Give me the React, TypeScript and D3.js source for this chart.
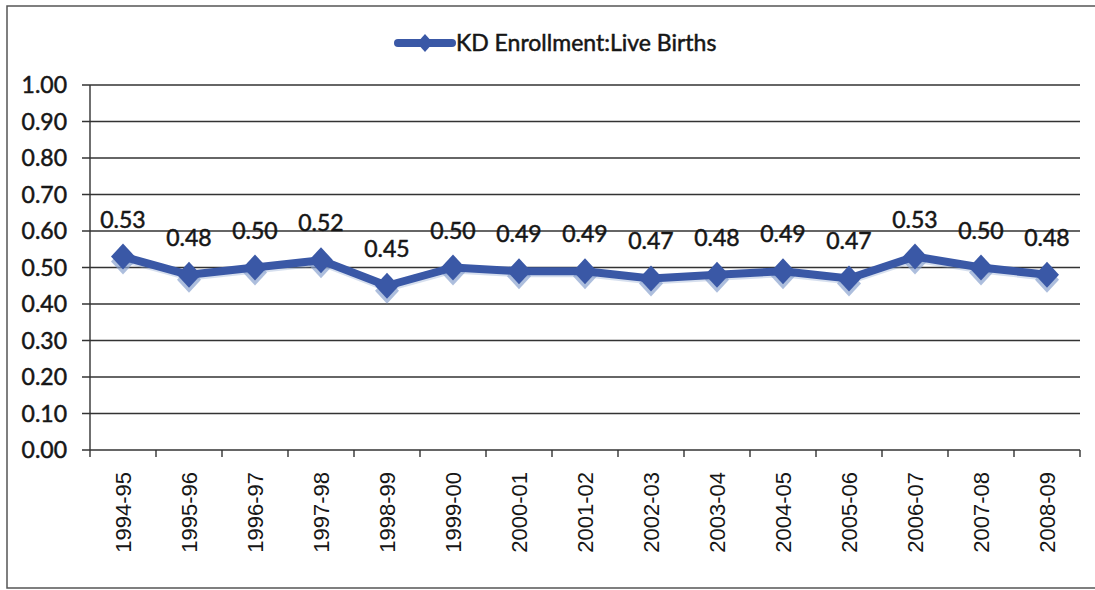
import * as d3 from "d3";

const categories = [
  "1994-95", "1995-96", "1996-97", "1997-98", "1998-99", "1999-00", "2000-01", "2001-02",
  "2002-03", "2003-04", "2004-05", "2005-06", "2006-07", "2007-08", "2008-09",
];
const ratio = [0.53, 0.48, 0.50, 0.52, 0.45, 0.50, 0.49, 0.49, 0.47, 0.48, 0.49, 0.47, 0.53, 0.50, 0.48];
const yTicks = [0, 0.1, 0.2, 0.3, 0.4, 0.5, 0.6, 0.7, 0.8, 0.9, 1.0];
const seriesName = "KD Enrollment:Live Births";

const W = 1095;
const H = 590;
const plot = { left: 90, right: 1080, top: 85, bottom: 450 };
const blue = "#3a58a6";
const shade = "#8aa3cf";
const grid = "#333";
const ink = "#161616";

const diamond = (x: number, y: number, w = 12, h = 13) =>
  `M${x},${y - h}L${x + w},${y}L${x},${y + h}L${x - w},${y}Z`;

export default function App() {
  const x = d3.scaleBand<string>().domain(categories).range([plot.left, plot.right]);
  const y = d3.scaleLinear().domain([0, 1]).range([plot.bottom, plot.top]);
  const cx = (c: string) => (x(c) ?? 0) + x.bandwidth() / 2;

  const line = d3
    .line<number>()
    .x((_, i) => cx(categories[i]))
    .y((d) => y(d));
  const shadowLine = d3
    .line<number>()
    .x((_, i) => cx(categories[i]))
    .y((d) => y(d) + 3);

  const boundaries = categories.map((c) => x(c) ?? 0).concat([plot.right]);
  const txt = { fill: ink, stroke: ink, strokeWidth: 0.5 };

  return (
    <svg
      width={W}
      height={H}
      style={{ position: "absolute", left: 0, top: 0, background: "#fff" }}
      fontFamily="Lato, 'Open Sans', sans-serif"
    >
      <rect x={7} y={6} width={W + 10} height={582} fill="none" stroke="#555" strokeWidth={1.5} />

      {/* legend */}
      <line x1={398} x2={452} y1={43} y2={43} stroke={blue} strokeWidth={8} strokeLinecap="round" />
      <path d={diamond(425, 43, 8, 9)} fill={blue} />
      <text x={456} y={51} fontSize={23} {...txt}>
        {seriesName}
      </text>

      {/* gridlines and y ticks */}
      {yTicks.map((t) => (
        <g key={t}>
          <line x1={plot.left - 8} x2={plot.right} y1={y(t)} y2={y(t)} stroke={grid} strokeWidth={1.4} />
          <text x={67} y={y(t)} dy="0.36em" textAnchor="end" fontSize={23} {...txt}>
            {d3.format(".2f")(t)}
          </text>
        </g>
      ))}
      <line x1={plot.left} x2={plot.left} y1={plot.top} y2={plot.bottom} stroke={grid} strokeWidth={1.4} />

      {/* x ticks and labels */}
      {boundaries.map((b, i) => (
        <line key={i} x1={b} x2={b} y1={plot.bottom} y2={plot.bottom + 7} stroke={grid} strokeWidth={1.4} />
      ))}
      {categories.map((c) => (
        <text
          key={c}
          transform={`translate(${cx(c)},${plot.bottom + 22}) rotate(-90)`}
          textAnchor="end"
          dy="0.36em"
          fontSize={22}
          fontFamily="'Liberation Sans', Arial, sans-serif"
          fill={ink}
        >
          {c}
        </text>
      ))}

      {/* series */}
      <path d={shadowLine(ratio) ?? ""} fill="none" stroke={shade} strokeWidth={6} opacity={0.35} />
      {ratio.map((v, i) => (
        <path key={"s" + i} d={diamond(cx(categories[i]), y(v) + 5)} fill={shade} opacity={0.7} />
      ))}
      <path d={line(ratio) ?? ""} fill="none" stroke={blue} strokeWidth={8} strokeLinejoin="round" />
      {ratio.map((v, i) => (
        <path key={"m" + i} d={diamond(cx(categories[i]), y(v))} fill={blue} />
      ))}

      {/* data labels */}
      {ratio.map((v, i) => (
        <text key={"l" + i} x={cx(categories[i])} y={y(v) - 29} textAnchor="middle" fontSize={23} {...txt}>
          {d3.format(".2f")(v)}
        </text>
      ))}
    </svg>
  );
}
